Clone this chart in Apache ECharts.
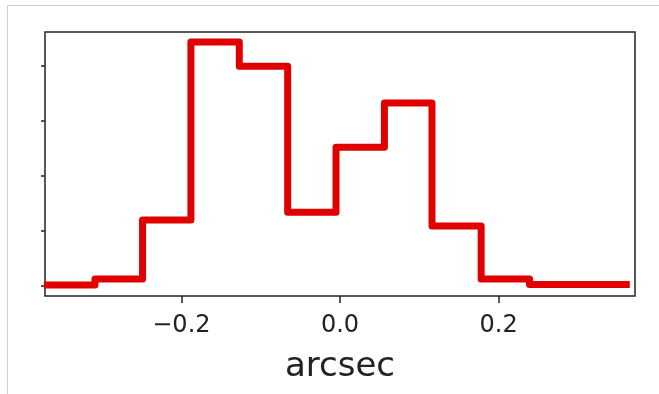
<!DOCTYPE html>
<html>
<head>
<meta charset="utf-8">
<title>arcsec histogram</title>
<script src="https://cdn.jsdelivr.net/npm/echarts@6/dist/echarts.min.js"></script>
<style>
  html, body { margin: 0; padding: 0; background: #ffffff; }
  #chart { width: 659px; height: 394px; }
</style>
</head>
<body>
<div id="chart"></div>
<script>
// Bin edges (arcsec) and the height of each bin
const binEdges = [-0.369, -0.309, -0.249, -0.188, -0.127, -0.066, -0.005, 0.056, 0.116, 0.178, 0.239, 0.300, 0.361];
const binHeights = [0.02, 0.13, 1.20, 4.43, 3.99, 1.34, 2.52, 3.32, 1.09, 0.13, 0.03, 0.03];
const xTickValues = [-0.2, 0.0, 0.2];
const xTickLabels = ['\u22120.2', '0.0', '0.2'];
const yTickValues = [0, 1, 2, 3, 4];

// Step outline: one point per left edge, closed with the final right edge
const stepPoints = binHeights.map((h, i) => [binEdges[i], h]);
stepPoints.push([binEdges[binEdges.length - 1], binHeights[binHeights.length - 1]]);

const font = 'DejaVu Sans';
const chart = echarts.init(document.getElementById('chart'), null, { renderer: 'canvas' });

chart.setOption({
  animation: false,
  backgroundColor: '#ffffff',
  graphic: [{
    type: 'rect',
    shape: { x: 7.5, y: 5.5, width: 700, height: 450 },
    style: { fill: 'none', stroke: '#d0d0d0', lineWidth: 1 },
    silent: true
  }],
  grid: {
    left: 45, right: 24, top: 32, bottom: 98,
    show: true,
    borderColor: '#222222',
    borderWidth: 1.5,
    backgroundColor: 'transparent'
  },
  xAxis: {
    type: 'value',
    min: -0.372,
    max: 0.372,
    name: 'arcsec',
    nameLocation: 'middle',
    nameGap: 54,
    nameTextStyle: { fontFamily: font, fontSize: 34, color: '#222222' },
    axisLine: { show: false, onZero: false },
    splitLine: { show: false },
    axisTick: {
      show: true, length: 7,
      customValues: xTickValues,
      lineStyle: { color: '#222222', width: 1.5 }
    },
    axisLabel: {
      show: true,
      customValues: xTickValues,
      margin: 18,
      fontFamily: font,
      fontSize: 24,
      color: '#222222',
      formatter: (v) => {
        const i = xTickValues.findIndex(t => Math.abs(t - v) < 1e-9);
        return i >= 0 ? xTickLabels[i] : '';
      }
    }
  },
  yAxis: {
    type: 'value',
    min: -0.18,
    max: 4.61,
    axisLine: { show: false, onZero: false },
    splitLine: { show: false },
    axisTick: {
      show: true, length: 4,
      customValues: yTickValues,
      lineStyle: { color: '#222222', width: 1.5 }
    },
    axisLabel: { show: false }
  },
  series: [{
    type: 'line',
    step: 'end',
    data: stepPoints,
    showSymbol: false,
    symbol: 'none',
    clip: true,
    lineStyle: { color: '#e00000', width: 7, join: 'round', cap: 'square' }
  }]
});
</script>
</body>
</html>
